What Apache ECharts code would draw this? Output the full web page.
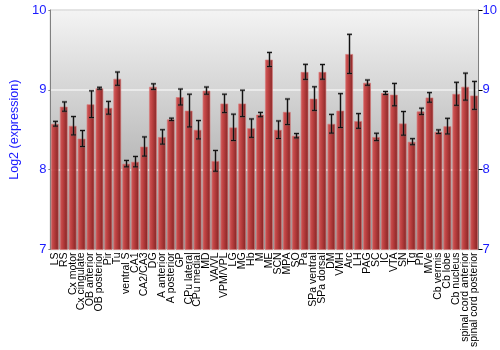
<!DOCTYPE html>
<html>
<head>
<meta charset="utf-8">
<script src="https://cdn.jsdelivr.net/npm/echarts@6/dist/echarts.min.js"></script>
<style>html,body{margin:0;padding:0;background:#fff}#c{width:500px;height:350px}</style>
</head>
<body>
<div id="c"></div>
<script>
var categories = ["LS","RS","Cx motor","Cx cingulate","OB anterior","OB posterior","Pir","Tu","ventral S","CA1","CA2/CA3","DG","A anterior","A posterior","GP","CPu lateral","CPu medial","MD","VA/VL","VPM/VPL","LG","MG","Hb","M","ME","SCN","MPA","SO","Pa","SPa ventral","SPa dorsal","DM","VMH","Arc","LH","PAG","SC","IC","VTA","SN","Tg","Pn","MVe","Cb vermis","Cb lobe","Cb nucleus","spinal cord anterior","spinal cord posterior"];
var means = [8.575,8.79,8.55,8.39,8.82,9.02,8.775,9.14,8.075,8.10,8.29,9.04,8.41,8.63,8.91,8.74,8.50,8.99,8.11,8.83,8.53,8.83,8.52,8.69,9.38,8.50,8.725,8.425,9.225,8.89,9.225,8.575,8.74,9.45,8.61,9.09,8.41,8.96,8.94,8.58,8.35,8.73,8.905,8.475,8.545,8.95,9.04,8.93];
var errors = [0.03,0.058,0.115,0.10,0.167,0.012,0.08,0.083,0.04,0.065,0.12,0.035,0.09,0.015,0.10,0.205,0.115,0.045,0.13,0.115,0.165,0.165,0.115,0.027,0.088,0.11,0.16,0.027,0.094,0.148,0.092,0.117,0.212,0.245,0.092,0.033,0.046,0.019,0.14,0.148,0.038,0.04,0.06,0.023,0.098,0.144,0.169,0.175];
var yTicks = [7,8,9,10];

var chart = echarts.init(document.getElementById('c'), null, {renderer:'canvas'});
var blue = '#1a1aff';
var errData = means.map(function(m,i){return [i, m, errors[i]];});
chart.setOption({
  animation:false,
  grid:{left:34,right:21,top:10,bottom:100,show:true,borderColor:'#808080',borderWidth:1,
    backgroundColor:new echarts.graphic.LinearGradient(0,0,0,1,[{offset:0,color:'#f4f4f4'},{offset:1,color:'#979797'}])},
  xAxis:{type:'category',data:categories,boundaryGap:true,
    axisLine:{show:false},axisTick:{show:false},
    axisLabel:{rotate:90,interval:0,fontSize:10.5,color:'#000',margin:3,fontFamily:'Liberation Sans'}},
  yAxis:[
    {type:'value',min:yTicks[0],max:yTicks[yTicks.length-1],interval:1,
     name:'Log2 (expression)',nameLocation:'middle',nameGap:21,
     nameTextStyle:{color:blue,fontSize:12.5,fontFamily:'Liberation Sans'},
     axisLine:{show:true,lineStyle:{color:'#808080'}},
     axisTick:{show:true,length:2,lineStyle:{color:'#808080'}},
     axisLabel:{color:blue,fontSize:13,margin:4,fontFamily:'Liberation Sans'},
     splitLine:{show:true,lineStyle:{color:'#f0f0f0',width:1.5}}},
    {type:'value',min:yTicks[0],max:yTicks[yTicks.length-1],interval:1,position:'right',
     axisLine:{show:true,lineStyle:{color:'#808080'}},
     axisTick:{show:true,length:4,lineStyle:{color:'#000'}},
     axisLabel:{color:blue,fontSize:13,margin:4,fontFamily:'Liberation Sans'},
     splitLine:{show:false}}
  ],
  series:[
    {type:'bar',data:means,barWidth:8,yAxisIndex:0,
     itemStyle:{opacity:0.93,borderColor:'rgba(215,120,120,0.7)',borderWidth:1,
       color:new echarts.graphic.LinearGradient(0,0,1,0,[{offset:0,color:'#d25555'},{offset:0.35,color:'#c03a3a'},{offset:1,color:'#7e1818'}])}},
    {type:'custom',data:errData,yAxisIndex:0,z:5,
     renderItem:function(params,api){
       var x=api.value(0), m=api.value(1), e=api.value(2);
       var top=api.coord([x,m+e]), bot=api.coord([x,m-e]);
       var cx=Math.round(top[0])+0.5, hw=2.5;
       var g=[];
       var st1={stroke:'rgba(90,90,90,0.45)',lineWidth:2.6};
       var st2={stroke:'#111',lineWidth:1};
       [st1,st2].forEach(function(st){
         g.push({type:'line',shape:{x1:cx,y1:top[1],x2:cx,y2:bot[1]},style:st});
         g.push({type:'line',shape:{x1:cx-hw,y1:top[1],x2:cx+hw,y2:top[1]},style:st});
         g.push({type:'line',shape:{x1:cx-hw,y1:bot[1],x2:cx+hw,y2:bot[1]},style:st});
       });
       return {type:'group',children:g};
     }}
  ]
});
</script>
</body>
</html>
